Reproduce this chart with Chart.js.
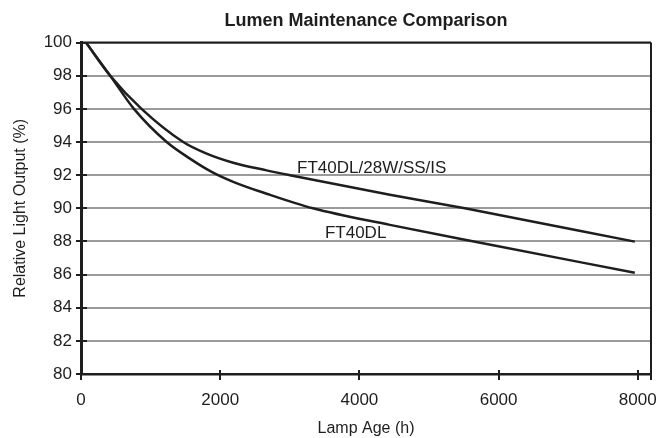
<!DOCTYPE html>
<html>
<head>
<meta charset="utf-8">
<title>Lumen Maintenance Comparison</title>
<script src="https://cdn.jsdelivr.net/npm/chart.js@4"></script>
<style>
  html, body { margin: 0; padding: 0; background: #ffffff; }
  #wrap { width: 659px; height: 438px; }
</style>
</head>
<body>
<div id="wrap"><canvas id="lumenChart"></canvas></div>
<script>
// === Data (lamp age in h, relative output in %) ===
const ageFT40DLSS = [72, 420, 870, 1469, 1805, 2187, 2667, 3002, 4438, 5515, 7957];
const outFT40DLSS = [100, 98, 96, 94, 93.3, 92.75, 92.29, 92.0, 90.82, 90.0, 87.99];

const ageFT40DL = [72, 420, 761, 1231, 1565, 1877, 2187, 2667, 3332, 4438, 5700, 7957];
const outFT40DL = [100, 98, 96, 94, 93.0, 92.2, 91.6, 90.88, 90.0, 89.0, 87.95, 86.11];

const xTicks = [0, 2000, 4000, 6000, 8000];
const yTicks = [80, 82, 84, 86, 88, 90, 92, 94, 96, 98, 100];

const seriesNames = ['FT40DL/28W/SS/IS', 'FT40DL'];
// where the in-plot series labels sit (data coords: left edge, middle)
const labelAt = [{ x: 3105, y: 92.43 }, { x: 3505, y: 88.5 }];

const FONT = 'Liberation Sans, Arial, Helvetica, sans-serif';
const INK = '#1e1e1e';

function toPoints(xs, ys) {
  return xs.map((x, i) => ({ x: x, y: ys[i] }));
}

// black frame on top/right, tick marks crossing the axes, series labels
const framePlugin = {
  id: 'frame',
  afterDraw(chart) {
    const { ctx, chartArea: a, scales } = chart;
    ctx.save();
    ctx.strokeStyle = INK;
    ctx.lineCap = 'butt';

    ctx.lineWidth = 2;
    ctx.beginPath();
    ctx.moveTo(a.left, a.top);
    ctx.lineTo(a.right, a.top);
    ctx.moveTo(a.right, a.top);
    ctx.lineTo(a.right, a.bottom + 6);
    ctx.stroke();

    ctx.beginPath();
    yTicks.forEach(v => {
      const y = Math.round(scales.y.getPixelForValue(v));
      ctx.moveTo(a.left - 5, y);
      ctx.lineTo(a.left + 6, y);
    });
    xTicks.forEach(v => {
      const x = Math.round(scales.x.getPixelForValue(v));
      ctx.moveTo(x, a.bottom - 4);
      ctx.lineTo(x, a.bottom + 6);
    });
    ctx.stroke();

    ctx.fillStyle = INK;
    ctx.font = '17px ' + FONT;
    ctx.textAlign = 'left';
    ctx.textBaseline = 'middle';
    seriesNames.forEach((name, i) => {
      ctx.fillText(name,
        scales.x.getPixelForValue(labelAt[i].x),
        scales.y.getPixelForValue(labelAt[i].y));
    });
    ctx.restore();
  }
};

new Chart(document.getElementById('lumenChart'), {
  type: 'line',
  data: {
    datasets: [
      {
        label: seriesNames[0],
        data: toPoints(ageFT40DLSS, outFT40DLSS),
        borderColor: INK,
        borderWidth: 2.5,
        pointRadius: 0,
        fill: false,
        cubicInterpolationMode: 'monotone'
      },
      {
        label: seriesNames[1],
        data: toPoints(ageFT40DL, outFT40DL),
        borderColor: INK,
        borderWidth: 2.5,
        pointRadius: 0,
        fill: false,
        cubicInterpolationMode: 'monotone'
      }
    ]
  },
  options: {
    responsive: true,
    maintainAspectRatio: false,
    animation: false,
    layout: { padding: { left: 0, right: 8, top: 0, bottom: 0 } },
    plugins: {
      legend: { display: false },
      tooltip: { enabled: false },
      title: {
        display: true,
        text: 'Lumen Maintenance Comparison',
        fullSize: false,
        color: INK,
        font: { family: FONT, size: 18, weight: 'bold' },
        padding: { top: 10, bottom: 11 }
      }
    },
    scales: {
      x: {
        type: 'linear',
        min: 0,
        max: 8190,
        afterBuildTicks: s => { s.ticks = xTicks.map(v => ({ value: v })); },
        afterFit: s => { s.height = 64; s.paddingLeft = 0; s.paddingRight = 0; },
        grid: { display: false, drawTicks: false },
        border: { display: true, color: INK, width: 2.5 },
        ticks: {
          color: INK,
          padding: 16,
          maxRotation: 0,
          font: { family: FONT, size: 17 },
          callback: v => String(v)
        },
        title: {
          display: true,
          text: 'Lamp Age (h)',
          color: INK,
          font: { family: FONT, size: 16 },
          padding: { top: 0, bottom: 0 }
        }
      },
      y: {
        min: 80,
        max: 100,
        afterBuildTicks: s => { s.ticks = yTicks.map(v => ({ value: v })); },
        afterFit: s => { s.width = 81; },
        grid: { color: '#9a9a9a', lineWidth: 2, drawTicks: false },
        border: { display: true, color: INK, width: 3 },
        ticks: {
          color: INK,
          padding: 9,
          font: { family: FONT, size: 17 },
          callback: v => String(v)
        },
        title: {
          display: true,
          text: 'Relative Light Output (%)',
          color: INK,
          font: { family: FONT, size: 16 },
          padding: { top: 11, bottom: 0 }
        }
      }
    }
  },
  plugins: [framePlugin]
});
</script>
</body>
</html>
